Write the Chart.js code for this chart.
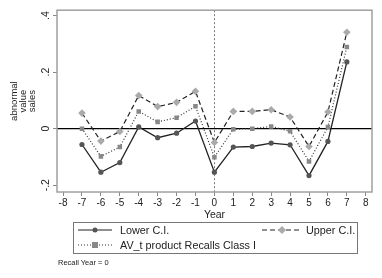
<!DOCTYPE html>
<html><head><meta charset="utf-8">
<script src="https://cdn.jsdelivr.net/npm/chart.js@4/dist/chart.umd.min.js"></script>
<style>
html,body{margin:0;padding:0;background:#fff;}
#wrap{position:relative;width:382px;height:278px;font-family:"Liberation Sans",Arial,sans-serif;}
canvas{position:absolute;left:0;top:0;}
#legend{position:absolute;left:73px;top:222px;width:285px;height:32px;border:1px solid #777;box-sizing:border-box;font-size:10.8px;color:#222;}
.item{position:absolute;white-space:nowrap;line-height:12px;}
.item svg{position:absolute;top:0;}
#note{position:absolute;left:58px;top:258px;font-size:7.5px;color:#222;}
</style></head>
<body>
<div id="wrap">
<canvas id="c" width="382" height="278"></canvas>
<div id="legend">
 <div class="item" style="left:4px;top:1px;"><svg width="34" height="12" style="left:0"><line x1="0" y1="6" x2="34" y2="6" stroke="#222" stroke-width="1.2"/><circle cx="17" cy="6" r="2.5" fill="#555"/></svg><span style="position:absolute;left:42px;">Lower C.I.</span></div>
 <div class="item" style="left:188px;top:1px;"><svg width="40" height="12" style="left:0"><line x1="0" y1="6" x2="40" y2="6" stroke="#222" stroke-width="1.2" stroke-dasharray="5,3"/><polygon points="20,2 24,6 20,10 16,6" fill="#aaa"/></svg><span style="position:absolute;left:44px;">Upper C.I.</span></div>
 <div class="item" style="left:4px;top:16px;"><svg width="34" height="12" style="left:0"><line x1="0" y1="6" x2="34" y2="6" stroke="#333" stroke-width="1.2" stroke-dasharray="1,2"/><rect x="14" y="3" width="6" height="6" fill="#888"/></svg><span style="position:absolute;left:42px;">AV_t product Recalls Class I</span></div>
</div>
<div id="note">Recall Year = 0</div>
</div>
<script>
const years = [-7,-6,-5,-4,-3,-2,-1,0,1,2,3,4,5,6,7];
const lowerCI = [-0.056,-0.154,-0.120,0.006,-0.032,-0.016,0.027,-0.154,-0.065,-0.063,-0.051,-0.057,-0.166,-0.045,0.236];
const upperCI = [0.055,-0.044,-0.010,0.117,0.078,0.093,0.132,-0.049,0.061,0.061,0.067,0.041,-0.063,0.059,0.341];
const avt = [0.000,-0.098,-0.065,0.061,0.024,0.039,0.079,-0.101,-0.002,0.000,0.008,-0.009,-0.116,0.006,0.289];
const xTicks = [-8,-7,-6,-5,-4,-3,-2,-1,0,1,2,3,4,5,6,7,8];
const yTicks = [-0.2,0,0.2,0.4];
const yTickLabels = ['-.2','0','.2','.4'];
const yTitle = ['abnormal','value','sales'];

const pts = arr => years.map((x,i)=>({x:x,y:arr[i]}));

const deco = {
  id:'deco',
  beforeDatasetsDraw(chart){
    const {ctx, chartArea:a, scales:{x,y}} = chart;
    ctx.save();
    ctx.strokeStyle='#000'; ctx.lineWidth=1.2;
    const y0=y.getPixelForValue(0);
    ctx.beginPath(); ctx.moveTo(a.left,y0); ctx.lineTo(a.right,y0); ctx.stroke();
    const x0=x.getPixelForValue(0);
    ctx.strokeStyle='#555'; ctx.lineWidth=0.8; ctx.setLineDash([2,2]);
    ctx.beginPath(); ctx.moveTo(x0,a.top); ctx.lineTo(x0,a.bottom); ctx.stroke();
    ctx.restore();
  },
  afterDraw(chart){
    const {ctx, chartArea:a, scales:{y}} = chart;
    ctx.save();
    ctx.strokeStyle='#a0a0a0'; ctx.lineWidth=1.5;
    ctx.strokeRect(a.left,a.top,a.right-a.left,a.bottom-a.top);
    ctx.fillStyle='#222'; ctx.font='10.5px "Liberation Sans", Arial, sans-serif';
    ctx.textAlign='center'; ctx.textBaseline='middle';
    yTicks.forEach((v,i)=>{
      const py=y.getPixelForValue(v);
      ctx.save(); ctx.translate(a.left-11,py); ctx.rotate(-Math.PI/2);
      ctx.fillText(yTickLabels[i],0,0); ctx.restore();
    });
    const cy=(a.top+a.bottom)/2;
    ctx.save(); ctx.translate(23,cy); ctx.rotate(-Math.PI/2);
    ctx.font='9.5px "Liberation Sans", Arial, sans-serif';
    yTitle.forEach((t,i)=>ctx.fillText(t,0,(i-1)*9));
    ctx.restore();
    ctx.restore();
  }
};

new Chart(document.getElementById('c'),{
  type:'line',
  data:{datasets:[
    {label:'Lower C.I.',data:pts(lowerCI),borderColor:'#222',borderWidth:1.3,pointStyle:'circle',pointRadius:2.6,pointBackgroundColor:'#555',pointBorderColor:'#555',pointBorderWidth:0},
    {label:'Upper C.I.',data:pts(upperCI),borderColor:'#222',borderWidth:1.2,borderDash:[5,3],pointStyle:'rectRot',pointRadius:3.8,pointBackgroundColor:'#aaa',pointBorderColor:'#aaa',pointBorderWidth:0},
    {label:'AV_t product Recalls Class I',data:pts(avt),borderColor:'#333',borderWidth:1.2,borderDash:[1,2],pointStyle:'rect',pointRadius:3.2,pointBackgroundColor:'#888',pointBorderColor:'#888',pointBorderWidth:0}
  ]},
  options:{
    responsive:false,animation:false,
    layout:{padding:{left:0,top:9,right:10,bottom:57}},
    plugins:{legend:{display:false},tooltip:{enabled:false}},
    elements:{line:{tension:0}},
    scales:{
      x:{type:'linear',min:-8.32,max:8.33,
        afterBuildTicks:s=>{s.ticks=xTicks.map(v=>({value:v}));},
        grid:{display:true,drawOnChartArea:false,drawTicks:true,tickLength:4,color:'#888'},
        border:{display:false},
        ticks:{color:'#222',font:{size:10,family:'"Liberation Sans", Arial, sans-serif'},padding:1,maxRotation:0,autoSkip:false,callback:v=>String(v)},
        title:{display:true,text:'Year',color:'#222',font:{size:10.5,family:'"Liberation Sans", Arial, sans-serif'},padding:{top:0,bottom:0}},
        afterFit:s=>{s.height=29;}
      },
      y:{type:'linear',min:-0.224,max:0.419,
        afterBuildTicks:s=>{s.ticks=yTicks.map(v=>({value:v}));},
        grid:{display:true,drawOnChartArea:false,drawTicks:true,tickLength:4,color:'#888'},
        border:{display:false},
        ticks:{display:true,color:'rgba(0,0,0,0)',callback:()=>' '},
        afterFit:s=>{s.width=57;}
      }
    }
  },
  plugins:[deco]
});
</script>
</body></html>
